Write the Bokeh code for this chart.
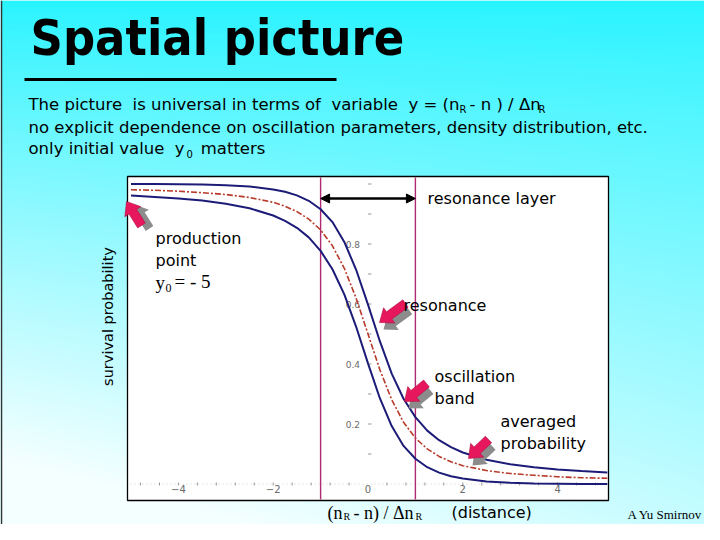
import numpy as np
from bokeh.plotting import figure
from bokeh.models import Range1d, Arrow, NormalHead
from bokeh.core.properties import value
from bokeh.embed import file_html
from bokeh.resources import INLINE

# ---------------- data ----------------
y_var = [-5.0, -4.5, -4.0, -3.5, -3.0, -2.5, -2.0, -1.75, -1.5, -1.25, -1.0, -0.75,
         -0.5, -0.25, 0.0, 0.25, 0.5, 0.75, 1.0, 1.25, 1.5, 1.75, 2.0, 2.5, 3.0,
         3.5, 4.0, 4.5, 5.05]
p_avg = [0.981, 0.979, 0.976, 0.971, 0.965, 0.955, 0.939, 0.926, 0.908, 0.883,
         0.847, 0.794, 0.719, 0.619, 0.500, 0.381, 0.281, 0.206, 0.153, 0.117,
         0.092, 0.074, 0.061, 0.045, 0.035, 0.029, 0.024, 0.021, 0.019]
p_upper = [1.000, 1.000, 0.999, 0.998, 0.996, 0.992, 0.982, 0.974, 0.962, 0.944,
           0.916, 0.873, 0.807, 0.714, 0.598, 0.476, 0.368, 0.284, 0.223, 0.178,
           0.146, 0.123, 0.105, 0.081, 0.066, 0.056, 0.048, 0.043, 0.038]
p_lower = [0.962, 0.957, 0.952, 0.945, 0.934, 0.919, 0.895, 0.877, 0.854, 0.822,
           0.777, 0.716, 0.632, 0.524, 0.402, 0.286, 0.193, 0.127, 0.084, 0.056,
           0.038, 0.026, 0.018, 0.008, 0.004, 0.002, 0.001, 0.000, 0.000]
layer_edges = [-1.0, 1.0]
x_major = [-4, -2, 0, 2, 4]
x_major_labels = ["\u22124", "\u22122", "0", "2", "4"]
x_minor = [-4.8, -4.4, -4.0, -3.6, -3.2, -2.8, -2.4, -2.0, -1.6, -1.2, -0.8, -0.4,
           0.4, 0.8, 1.2, 1.6, 2.0, 2.4, 2.8, 3.2, 3.6, 4.0, 4.4, 4.8]
y_major = [0.2, 0.4, 0.6, 0.8]
y_major_labels = ["0.2", "0.4", "0.6", "0.8"]
y_minor = [0.1, 0.2, 0.3, 0.4, 0.5, 0.6, 0.7, 0.8, 0.9, 1.0]

# ---------------- layout helpers (picture pixel -> data) ----------------
W, H = 704, 524
X0, SX = 367.5, 47.4
Y0, SY = 483.5, 300.0


def dx(px):
    return (px - X0) / SX


def dy(py):
    return (Y0 - py) / SY


p = figure(width=W, height=H, x_range=Range1d(dx(0), dx(W)),
           y_range=Range1d(dy(H), dy(0)), output_backend="svg",
           toolbar_location=None, x_axis_type=None, y_axis_type=None,
           min_border=0)
p.outline_line_color = None
p.background_fill_color = "#bff"
p.border_fill_color = "#bff"

# slide background gradient
ny, nx = 160, 160
v = np.linspace(0, 1, ny)[:, None]
u = np.linspace(0, 1, nx)[None, :]
t = np.clip(v ** 0.85 * (1.0 - 0.22 * u) + 0.12 * v * (1 - u), 0, 1)
top = np.array([40, 244, 255], dtype=float)
bot = np.array([244, 255, 255], dtype=float)
img = np.empty((ny, nx), dtype=np.uint32)
view = img.view(dtype=np.uint8).reshape((ny, nx, 4))
for k in range(3):
    view[:, :, k] = (top[k] + (bot[k] - top[k]) * t).astype(np.uint8)
view[:, :, 3] = 255
img = img[::-1].copy()
p.image_rgba(image=[img], x=dx(0), y=dy(H), dw=dx(W) - dx(0), dh=dy(0) - dy(H))
# thin dark slide edge on the left
p.segment(x0=[dx(1)], x1=[dx(1)], y0=[dy(0)], y1=[dy(H)], line_color="#333333", line_width=1.5)

# plot box
p.quad(left=dx(127), right=dx(608), top=dy(176), bottom=dy(500),
       fill_color="white", line_color="black", line_width=1.3)

# faint axes
p.segment(x0=dx(130), x1=dx(605), y0=0, y1=0, line_color="#d0d0d0", line_width=1,
          line_dash="1 3")
p.segment(x0=x_minor, x1=x_minor, y0=[-1.5 / SY] * len(x_minor),
          y1=[1.5 / SY] * len(x_minor), line_color="#9a9a9a", line_width=1)
p.segment(x0=[0] * len(y_minor), x1=[3.5 / SX] * len(y_minor), y0=y_minor, y1=y_minor,
          line_color="#9a9a9a", line_width=1)
p.text(x=[0.0] * len(y_major), y=y_major, text=y_major_labels, text_align="right",
       text_baseline="middle", x_offset=-8, text_font=value("DejaVu Sans"),
       text_font_size="9px", text_color="#6a6a6a")
p.text(x=x_major, y=[0.0] * len(x_major), text=x_major_labels, text_align="center",
       text_baseline="top", y_offset=1, text_font=value("DejaVu Sans"),
       text_font_size="10px", text_color="#6a6a6a")

# resonance layer edges
p.segment(x0=layer_edges, x1=layer_edges, y0=[dy(177)] * 2, y1=[dy(499)] * 2,
          line_color="#b02a72", line_width=1.4)
p.add_layout(Arrow(start=NormalHead(size=9, fill_color="black", line_color="black"),
                   end=NormalHead(size=9, fill_color="black", line_color="black"),
                   x_start=layer_edges[0], x_end=layer_edges[1],
                   y_start=dy(198), y_end=dy(198), line_color="black", line_width=2.5))

# curves
p.line(y_var, p_upper, line_color="#1c1c78", line_width=2)
p.line(y_var, p_lower, line_color="#1c1c78", line_width=2)
p.line(y_var, p_avg, line_color="#b83a2a", line_width=1.6, line_dash="6 2 2 2")


# block arrows (pink with grey shadow)
def block_arrow(tip, tail, bw=9.0, hw=19.0, hl=12.0):
    tx, ty = tip
    sx, sy = tail
    L = np.hypot(tx - sx, ty - sy)
    ux, uy = (tx - sx) / L, (ty - sy) / L
    nx_, ny_ = -uy, ux
    bx, by = tx - ux * hl, ty - uy * hl
    pts = [(sx + nx_ * bw / 2, sy + ny_ * bw / 2), (bx + nx_ * bw / 2, by + ny_ * bw / 2),
           (bx + nx_ * hw / 2, by + ny_ * hw / 2), (tx, ty),
           (bx - nx_ * hw / 2, by - ny_ * hw / 2), (bx - nx_ * bw / 2, by - ny_ * bw / 2),
           (sx - nx_ * bw / 2, sy - ny_ * bw / 2)]
    return [q[0] for q in pts], [q[1] for q in pts]


arrows = [((126, 201), (141, 225), (8, 3)),
          ((379, 322), (405, 303), (4, 7)),
          ((404, 401), (426, 383), (4, 7)),
          ((468, 458), (488, 439), (4, 7))]
for tip, tail, off in arrows:
    xs, ys = block_arrow((tip[0] + off[0], tip[1] + off[1]), (tail[0] + off[0], tail[1] + off[1]))
    p.patch([dx(a) for a in xs], [dy(b) for b in ys], fill_color="#8c8c8c", line_color=None)
    xs, ys = block_arrow(tip, tail)
    p.patch([dx(a) for a in xs], [dy(b) for b in ys], fill_color="#e6175c", line_color="#b0103f",
            line_width=0.6)


def txt(px, py, s, font="DejaVu Sans", size=16, align="left", baseline="middle",
        color="black", style="normal", angle=0.0):
    p.text(x=[dx(px)], y=[dy(py)], text=[s], text_font=value(font),
           text_font_size=f"{size}px", text_align=align, text_baseline=baseline,
           text_color=color, text_font_style=style, angle=angle)


# title
TITLE_FONT = "DejaVu Sans Condensed, Roboto, sans-serif"
txt(30, 37, "Spatial picture", font=TITLE_FONT, size=50, style="bold")
p.segment(x0=[dx(24)], x1=[dx(336)], y0=[dy(79)], y1=[dy(79)], line_color="black", line_width=3)

# subtitle
NB = "\u00a0"
txt(28, 104, f"The picture{NB} is universal in terms of{NB} variable{NB} y = (n", size=16.5)
txt(459, 109, "R", size=10)
txt(469, 104, f" - n ) / \u0394n", size=16.5)
txt(538, 109, "R", size=10)
txt(28, 127, "no explicit dependence on oscillation parameters, density distribution, etc.", size=16.5)
txt(28, 148, f"only initial value{NB} y", size=16.5)
txt(186, 153, "0", size=10)
txt(195, 148, f"{NB}matters", size=16.5)

# y axis title
txt(107, 316, "survival probability", size=14.5, align="center", angle=np.pi / 2)

# annotations in plot
txt(427, 198, "resonance layer", size=16)
txt(155, 238, "production", size=16)
txt(155, 260, "point", size=16)
txt(155, 282, "y", font="Liberation Serif", size=19)
txt(165, 287, "0", font="Liberation Serif", size=12)
txt(174, 281, "= - 5", font="Liberation Serif", size=19)
txt(403, 305, "resonance", size=16)
txt(434, 376, "oscillation", size=16)
txt(434, 398, "band", size=16)
txt(500, 421, "averaged", size=16)
txt(500, 443, "probability", size=16)

# bottom labels
txt(327, 512, "(n", font="Liberation Serif", size=18)
txt(343, 515.5, "R", font="Liberation Serif", size=10)
txt(353, 512, "- n) / \u0394n", font="Liberation Serif", size=18)
txt(415, 515.5, "R", font="Liberation Serif", size=10)
txt(451, 512, "(distance)", size=16)
txt(702, 514, "A Yu Smirnov", font="Liberation Serif", size=13, align="right")

open("out.html", "w").write(file_html(p, INLINE))
